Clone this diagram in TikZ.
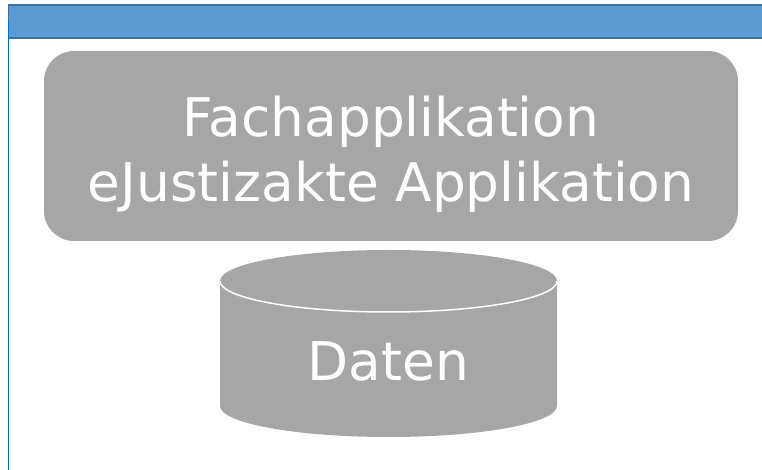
\documentclass[tikz,border=0pt]{standalone}
\usepackage{fontspec}
\setmainfont{DejaVu Sans}
\definecolor{barblue}{HTML}{5B9BD5}
\definecolor{barborder}{HTML}{41719C}
\definecolor{lineblue}{HTML}{0070C0}
\definecolor{boxgray}{HTML}{A6A6A6}
\begin{document}
\begin{tikzpicture}[x=1pt,y=1pt,
  bigtext/.style={text=white,font=\fontsize{53.3}{60}\selectfont,inner sep=0pt,anchor=base}]
\useasboundingbox (0,0) rectangle (762,470);
% blue header bar
\fill[barblue,draw=barborder,line width=1.5pt] (8.5,465) rectangle (770,432);
% left line
\draw[lineblue,line width=1.4pt] (8.5,450) -- (8.5,0);
% rounded box
\fill[boxgray,rounded corners=30pt] (44,419) rectangle (738,229);
\node[bigtext] (t1) at (391,333) {Fachapplikation};
\node[bigtext] (t2) at (391,268) {eJustizakte Applikation};
% cylinder
\fill[boxgray] (220,189) -- (220,64) arc[start angle=180,end angle=360,x radius=168.5,y radius=31] -- (557,189) arc[start angle=0,end angle=180,x radius=168.5,y radius=31] -- cycle;
\draw[white,line width=1.5pt] (220,189) arc[start angle=180,end angle=360,x radius=168.5,y radius=31];
\node[bigtext] (t3) at (388.5,89) {Daten};
\end{tikzpicture}
\end{document}
